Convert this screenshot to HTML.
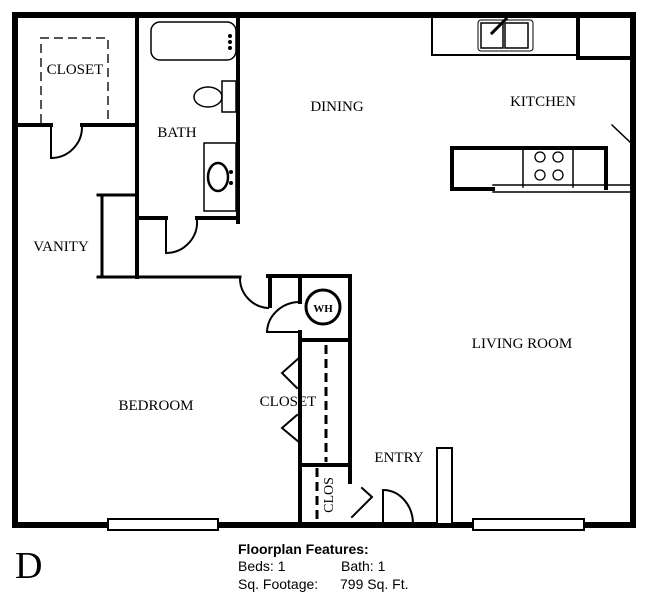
<!DOCTYPE html>
<html><head><style>body{margin:0;background:#fff}svg{display:block}</style></head><body>
<svg width="652" height="600" viewBox="0 0 652 600" xmlns="http://www.w3.org/2000/svg">
<g fill="none" stroke="#000" stroke-linecap="square">
<path d="M15 15H633V525H15Z" stroke-width="6"/>
<rect x="108" y="519" width="110" height="11" fill="#fff" stroke-width="2"/>
<rect x="473" y="519" width="111" height="11" fill="#fff" stroke-width="2"/>
<path d="M17 125H51M82 125H137" stroke-width="4"/>
<path d="M41 123V38H108V123" stroke="#555" stroke-width="2" stroke-dasharray="9,5" stroke-linecap="butt"/>
<path d="M51 125V158A31 31 0 0 0 82 127" stroke-width="2"/>
<path d="M137 15V277M238 15V222" stroke-width="4"/>
<path d="M137 218H166M197 218H238" stroke-width="4"/>
<path d="M166 218V253A31 31 0 0 0 197 220" stroke-width="2"/>
<rect x="151" y="22" width="85" height="38" rx="9" stroke-width="1.5"/>
<circle cx="230" cy="36" r="1.5" fill="#000"/><circle cx="230" cy="42" r="1.5" fill="#000"/><circle cx="230" cy="48" r="1.5" fill="#000"/>
<ellipse cx="208" cy="97" rx="14" ry="10" stroke-width="1.5"/>
<rect x="222" y="81" width="14" height="31" stroke-width="1.5"/>
<rect x="204" y="143" width="32" height="68" stroke-width="1.5"/>
<ellipse cx="218" cy="177" rx="10" ry="14" stroke-width="2.5"/>
<circle cx="231" cy="172" r="2" fill="#000" stroke="none"/><circle cx="231" cy="183" r="2" fill="#000" stroke="none"/>
<path d="M98 195H137M98 277H240M102 195V277" stroke-width="3"/>
<path d="M240 277A30 30 0 0 0 268 308" stroke-width="2"/>
<path d="M268 276H350M270 276V306M300 276V302M300 332V525M350 276V482" stroke-width="4"/>
<path d="M300 332H267A33 31 0 0 1 300 302" stroke-width="2"/>
<circle cx="323" cy="307" r="17" stroke-width="3"/>
<path d="M300 340H350M300 465H350" stroke-width="4"/>
<path d="M326 345V462" stroke-width="3" stroke-dasharray="9,5" stroke-linecap="butt"/>
<path d="M317 468V522" stroke-width="3" stroke-dasharray="9,5" stroke-linecap="butt"/>
<path d="M300 357L282 373L297 388M297 415L282 428L300 443" stroke-width="2"/>
<path d="M362 488L372 497L352 517" stroke-width="2"/>
<path d="M383 524V490A30 34 0 0 1 413 524" stroke-width="2"/>
<rect x="437" y="448" width="15" height="76" fill="#fff" stroke-width="2"/>
<path d="M432 15V55H578" stroke-width="2"/>
<path d="M578 15V58H632" stroke-width="4"/>
<rect x="478" y="20" width="55" height="31" rx="3" stroke-width="1"/>
<rect x="481" y="23" width="22" height="25" stroke-width="1.5"/>
<rect x="505" y="23" width="23" height="25" stroke-width="1.5"/>
<path d="M492 33L506 19" stroke-width="3"/>
<path d="M612 125L632 144" stroke-width="1.5"/>
<path d="M493 189H452V148H606V188" stroke-width="4"/>
<path d="M493 185H632M493 192H632" stroke-width="1.5"/>
<path d="M523 148V187M573 148V187" stroke-width="1.5"/>
<circle cx="540" cy="157" r="5" stroke-width="1.3"/><circle cx="558" cy="157" r="5" stroke-width="1.3"/>
<circle cx="540" cy="175" r="5" stroke-width="1.3"/><circle cx="558" cy="175" r="5" stroke-width="1.3"/>
</g>
<g font-family="Liberation Serif, serif" font-size="15" fill="#000" text-anchor="middle">
<text x="75" y="74">CLOSET</text>
<text x="177" y="137">BATH</text>
<text x="337" y="111">DINING</text>
<text x="543" y="106">KITCHEN</text>
<text x="61" y="251">VANITY</text>
<text x="522" y="348">LIVING ROOM</text>
<text x="156" y="410">BEDROOM</text>
<text x="288" y="406">CLOSET</text>
<text x="399" y="462">ENTRY</text>
<text x="323" y="312" font-size="11" font-weight="bold">WH</text>
<text transform="translate(333,495) rotate(-90)" font-size="14">CLOS</text>
<text x="15" y="578" font-size="38" text-anchor="start">D</text>
</g>
<g font-family="Liberation Sans, sans-serif" font-size="14" fill="#000">
<text x="238" y="554" font-weight="bold">Floorplan Features:</text>
<text x="238" y="571">Beds: 1</text><text x="341" y="571">Bath: 1</text>
<text x="238" y="589">Sq. Footage:</text><text x="340" y="589">799 Sq. Ft.</text>
</g>
</svg>
</body></html>
